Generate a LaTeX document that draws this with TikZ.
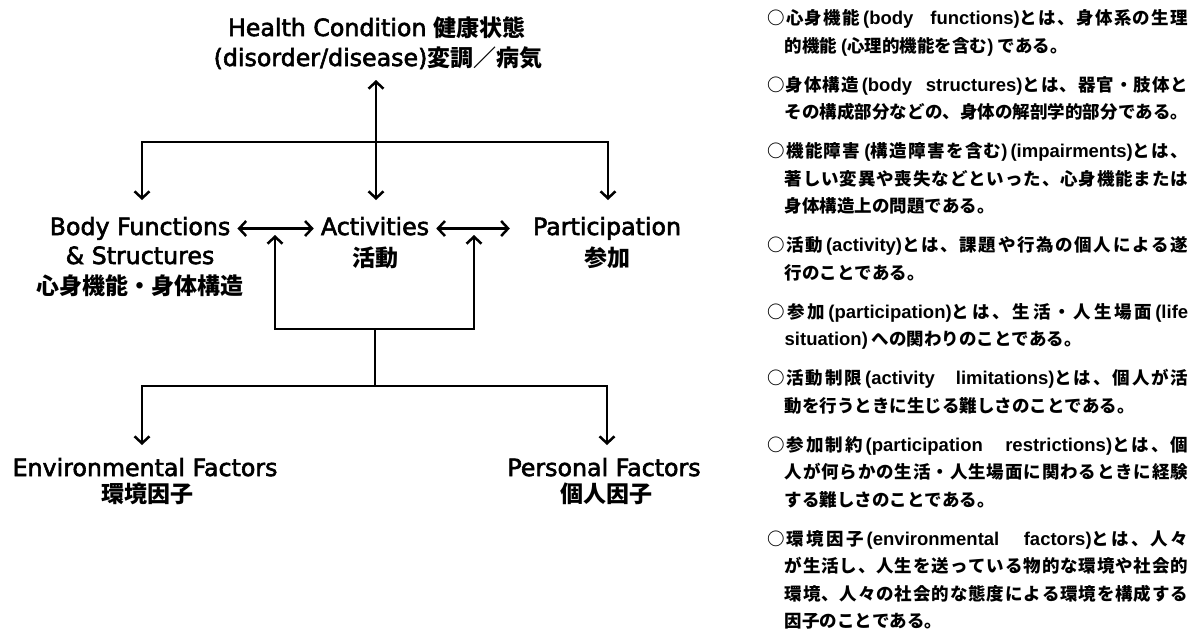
\documentclass[tikz,border=0pt]{standalone}
\usepackage{fontspec}
\usetikzlibrary{arrows.meta}
\newfontfamily\latfont{DejaVu Sans}[FakeBold=2.5]
\newfontfamily\latb{Liberation Sans}
\newfontfamily\jpfont{Noto Sans CJK JP}
\XeTeXinterchartokenstate=1
\newcount\jpcc
\def\jprange#1#2{\jpcc=#1\relax\loop\ifnum\jpcc<#2\relax\XeTeXcharclass\jpcc=7\relax\advance\jpcc by 1\relax\repeat}
\jprange{"3000}{"3100}
\jprange{"4E00}{"A000}
\jprange{"FF00}{"FFF0}
\XeTeXcharclass"25CB=7
\XeTeXinterchartoks 7 7 = {\hskip 0pt plus 0.3pt\relax}
\XeTeXinterchartoks 0 7 = {\hskip 0pt plus 0.3pt\relax}
\XeTeXinterchartoks 7 0 = {\hskip 0pt plus 0.3pt\relax}
\newcommand\jpd[1]{{\jpfont\bfseries\fontsize{23}{28}\selectfont #1}}
\newcommand\rtf{\jpfont\bfseries\fontsize{17.5}{21}\selectfont}
\newcommand\lt[1]{{\latb\bfseries\fontsize{18.5}{21}\selectfont #1}}
\newcommand\ob[1]{\hspace{3pt}\lt{(#1)}}
\newcommand\fl[1]{\makebox[421pt][s]{#1}}
\newcommand\fc[1]{\makebox[403.5pt][s]{#1}}
\begin{document}
\begin{tikzpicture}[x=1pt,y=1pt,
  conn/.style={line width=2.5pt},
  arr/.style={conn,-{Straight Barb[length=7pt,width=15pt]}},
  dbl/.style={conn,{Straight Barb[length=7pt,width=15pt]}-{Straight Barb[length=7pt,width=15pt]}},
  lab/.style={anchor=base,inner xsep=7pt,inner ysep=2pt,text height=18pt,text depth=5pt,font=\latfont\fontsize{23.7}{28}\selectfont},
  rt/.style={anchor=base west,inner sep=0pt,font=\rtf}]
\fill[white] (0,0) rectangle (1191,-633);
\useasboundingbox (0,0) rectangle (1191,-633);

% ---- diagram labels
\node[lab] (hc1) at (377,-36) {Health Condition \jpd{健康状態}};
\node[lab] (hc2) at (378,-66) {(disorder/disease)\jpd{変調／病気}};
\node[lab] (bf1) at (140,-235) {Body Functions};
\node[lab] (bf2) at (140,-264) {\& Structures};
\node[lab] (bf3) at (140,-294) {\jpd{心身機能・身体構造}};
\node[lab] (act1) at (375,-235) {Activities};
\node[lab] (act2) at (375,-266) {\jpd{活動}};
\node[lab] (pa1) at (607,-235) {Participation};
\node[lab] (pa2) at (607,-266) {\jpd{参加}};
\node[lab] (ef1) at (145,-476) {Environmental Factors};
\node[lab] (ef2) at (147,-502) {\jpd{環境因子}};
\node[lab] (pf1) at (604,-476) {Personal Factors};
\node[lab] (pf2) at (606,-502) {\jpd{個人因子}};

% ---- connector points
\coordinate (hcTip) at (376,-80);
\coordinate (actTip) at (376,-200);
\coordinate (barM) at (376,-142);
\coordinate (bfTip) at (142,-200);
\coordinate (paTip) at (608,-200);
\coordinate (rM) at (375,-329);
\coordinate (upL) at (275,-235);
\coordinate (upR) at (474,-235);
\coordinate (lbM) at (375,-386);
\coordinate (efTip) at (142,-445);
\coordinate (pfTip) at (607,-445);

% ---- connectors
\draw[dbl] (hcTip) -- (actTip);
\draw[arr] (barM) -| (bfTip);
\draw[arr] (barM) -| (paTip);
\draw[dbl] (bf1.east) -- (act1.west);
\draw[dbl,shorten >=16pt] (act1.east) -- (pa1.west);
\draw[arr] (rM) -| (upL);
\draw[arr] (rM) -| (upR);
\draw[conn] (rM) -- (lbM);
\draw[arr] (lbM) -| (efTip);
\draw[arr] (lbM) -| (pfTip);

% ---- right column
\node[rt] (t1) at (767,-24.6) {\fl{○心身機能\ob{body functions}とは、身体系の生理}};
\node[rt] (t2) at (784.5,-52.1) {的機能\hspace{4pt}\lt{(}心理的機能を含む\lt{)}\hspace{4pt}である。};
\node[rt] (t3) at (767,-91.1) {\fl{○身体構造\ob{body structures}とは、器官・肢体と}};
\node[rt] (t4) at (784.5,-118.6) {\fc{その構成部分などの、身体の解剖学的部分である。}};
\node[rt] (t5) at (767,-157.6) {\fl{○機能障害\hspace{4pt}\lt{(}構造障害を含む\lt{)}\ob{impairments}とは、}};
\node[rt] (t6) at (784.5,-185.1) {\fc{著しい変異や喪失などといった、心身機能または}};
\node[rt] (t7) at (784.5,-212.6) {身体構造上の問題である。};
\node[rt] (t8) at (767,-251.6) {\fl{○活動\ob{activity}とは、課題や行為の個人による遂}};
\node[rt] (t9) at (784.5,-279.1) {行のことである。};
\node[rt] (t10) at (767,-318.1) {\fl{○参加\ob{participation}とは、生活・人生場面\hspace{3pt}\lt{(life}}};
\node[rt] (t11) at (784.5,-345.6) {\lt{situation)}\hspace{4pt}への関わりのことである。};
\node[rt] (t12) at (767,-384.6) {\fl{○活動制限\ob{activity limitations}とは、個人が活}};
\node[rt] (t13) at (784.5,-412.1) {動を行うときに生じる難しさのことである。};
\node[rt] (t14) at (767,-451.1) {\fl{○参加制約\ob{participation restrictions}とは、個}};
\node[rt] (t15) at (784.5,-478.6) {\fc{人が何らかの生活・人生場面に関わるときに経験}};
\node[rt] (t16) at (784.5,-506.1) {する難しさのことである。};
\node[rt] (t17) at (767,-545.1) {\fl{○環境因子\ob{environmental factors}とは、人々}};
\node[rt] (t18) at (784.5,-572.6) {\fc{が生活し、人生を送っている物的な環境や社会的}};
\node[rt] (t19) at (784.5,-600.1) {\fc{環境、人々の社会的な態度による環境を構成する}};
\node[rt] (t20) at (784.5,-627.6) {因子のことである。};
\end{tikzpicture}
\end{document}
